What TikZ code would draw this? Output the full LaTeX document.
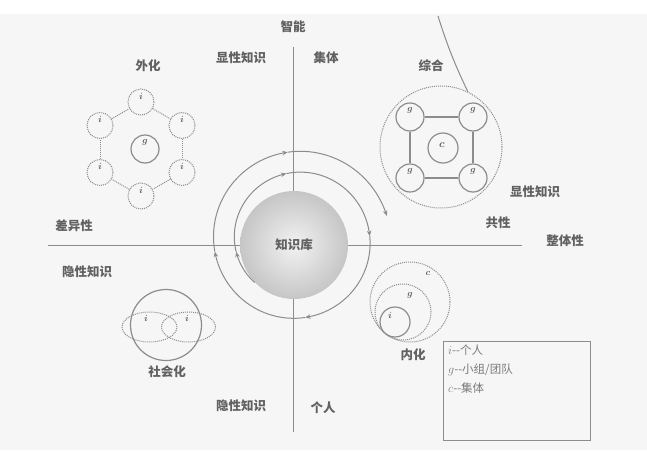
\documentclass[tikz,border=0pt]{standalone}
\usepackage{fontspec}
\newfontfamily\cjk{Noto Sans CJK SC}
\usetikzlibrary{arrows.meta,shapes.geometric}
\definecolor{ln}{gray}{0.55}
\definecolor{tx}{gray}{0.38}
\definecolor{lgx}{gray}{0.48}
\begin{document}
\begin{tikzpicture}[x=1pt,y=-1pt,
  lab/.style={font=\cjk\bfseries\fontsize{12.5}{14}\selectfont, text=tx, inner sep=1pt},
  axisline/.style={draw=ln, line width=0.9pt},
  dcirc/.style={circle, draw=ln, densely dotted, line width=1pt, minimum size=26pt, inner sep=0pt},
  scirc/.style={circle, draw=ln, line width=1.2pt, minimum size=28pt, inner sep=0pt},
  dline/.style={draw=ln, densely dotted, line width=1pt},
  sline/.style={draw=ln, line width=1.2pt},
  ltr/.style={font=\fontsize{9}{9}\selectfont\boldmath, text=tx, inner sep=0pt},
  orbit/.style={draw=ln, line width=1pt},
  tip/.style={-{Stealth[length=5.5pt,width=4.5pt]}}
]
\useasboundingbox (0,0) rectangle (647,450);
\fill[white] (0,0) rectangle (647,450);
\fill[gray!7] (0,14) rectangle (647,450);

% axes
\coordinate (vt) at (293,47); \coordinate (vb) at (293,432);
\coordinate (hl) at (48,245);  \coordinate (hr) at (522,245);
\draw[axisline] (vt) -- (vb);
\draw[axisline] (hl) -- (hr);

% knowledge base sphere
\node[circle, minimum size=108pt, inner sep=0pt, shade, inner color=gray!10, outer color=gray!45,
      font=\cjk\bfseries\fontsize{12.5}{14}\selectfont, text=tx] (kb) at (294,245) {知识库};

% spiral
\foreach \a/\b in {0/34,34/126,126/222,222/309,309/397,397/489,489/570}{
  \draw[orbit,tip] plot[domain=\a:\b, samples=30]
    ({297+(60+0.0579*\x)*cos(225-\x)},{240-(60+0.0579*\x)*sin(225-\x)});
}

% line near 综合
\coordinate (s1) at (438,16); \coordinate (s2) at (468,92);
\draw[orbit] (s1) to[bend right=4] (s2);

% 外化 hexagon
\node[dcirc] (h1) at (141,102) {};
\node[dcirc] (h2) at (182,125.5) {};
\node[dcirc] (h3) at (182,172.5) {};
\node[dcirc] (h4) at (141,196) {};
\node[dcirc] (h5) at (100,172.5) {};
\node[dcirc] (h6) at (100,125.5) {};
\draw[dline] (h1) -- (h2); \draw[dline] (h2) -- (h3); \draw[dline] (h3) -- (h4);
\draw[dline] (h4) -- (h5); \draw[dline] (h5) -- (h6); \draw[dline] (h6) -- (h1);
\node[scirc] (g0) at (145,149) {};
\foreach \n in {h1,h2,h3,h4,h5,h6}{ \node[ltr] (\n l) at ([yshift=6pt]\n.center) {$i$}; }
\node[ltr] (g0l) at ([yshift=7pt]g0.center) {$g$};

% 综合
\node[dcirc, minimum size=122pt] (zc) at (441,147) {};
\node[scirc] (q1) at (410,117) {};
\node[scirc] (q2) at (473,117) {};
\node[scirc] (q3) at (473,178) {};
\node[scirc] (q4) at (410,178) {};
\draw[sline] (q1) -- (q2); \draw[sline] (q2) -- (q3); \draw[sline] (q3) -- (q4); \draw[sline] (q4) -- (q1);
\node[scirc, minimum size=30pt] (qc) at (443,148) {};
\foreach \n in {q1,q2,q3,q4}{ \node[ltr] (\n l) at ([yshift=7pt]\n.center) {$g$}; }
\node[ltr, font=\fontsize{11}{11}\selectfont\boldmath] (qcl) at ([xshift=-1pt,yshift=3pt]qc.center) {$c$};

% 社会化
\node[circle, draw=ln, line width=1.2pt, minimum size=71pt, inner sep=0pt] (sc) at (166,325) {};
\node[ellipse, draw=ln, densely dotted, line width=1pt, minimum width=55pt, minimum height=30pt, inner sep=0pt] (e1) at (149.5,327) {};
\node[ellipse, draw=ln, densely dotted, line width=1pt, minimum width=54pt, minimum height=30pt, inner sep=0pt] (e2) at (188.5,327) {};
\node[ltr] (e1l) at (146,318) {$i$};
\node[ltr] (e2l) at (187,318) {$i$};

% 内化
\node[dcirc, minimum size=80pt] (n3) at (410,302) {};
\node[dcirc, minimum size=56pt] (n2) at (403,312) {};
\node[scirc, minimum size=30pt] (n1) at (395,322) {};
\node[ltr] (n3l) at (428,273) {$c$};
\node[ltr] (n2l) at (410,295) {$g$};
\node[ltr] (n1l) at (390,315) {$i$};

% labels
\node[lab] (t1) at (293,27) {智能};
\node[lab] (t2) at (241,58) {显性知识};
\node[lab] (t3) at (326,58) {集体};
\node[lab] (t4) at (148,66) {外化};
\node[lab] (t5) at (431,66) {综合};
\node[lab] (t6) at (535,192) {显性知识};
\node[lab] (t7) at (498,223) {共性};
\node[lab] (t8) at (565,241) {整体性};
\node[lab] (t9) at (74,226) {差异性};
\node[lab] (t10) at (87,272) {隐性知识};
\node[lab] (t11) at (167,372) {社会化};
\node[lab] (t12) at (413,355) {内化};
\node[lab] (t13) at (241,406) {隐性知识};
\node[lab] (t14) at (323,408) {个人};

% legend
\node[draw=ln, line width=0.9pt, minimum width=147pt, minimum height=99pt, inner sep=0pt, anchor=north west] (lg) at (443,341) {};
\node[anchor=north west, align=left, text=lgx, inner sep=0pt, font=\cjk\fontsize{11.5}{19}\selectfont] (lgt) at (448,345)
  {$i$--个人\\ $g$--小组/团队\\ $c$--集体};
\end{tikzpicture}
\end{document}
